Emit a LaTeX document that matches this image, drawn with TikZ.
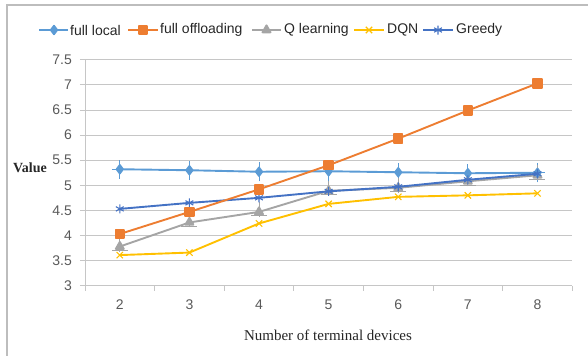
\documentclass[tikz,border=0pt]{standalone}
\usepackage{fontspec}
\setmainfont{Liberation Serif}
\newfontfamily\chartsans{Liberation Sans}
\usetikzlibrary{plotmarks}
\definecolor{clocal}{HTML}{5B9BD5}
\definecolor{coffload}{HTML}{ED7D31}
\definecolor{cqlearn}{HTML}{A5A5A5}
\definecolor{cdqn}{HTML}{FFC000}
\definecolor{cgreedy}{HTML}{4472C4}
\definecolor{gridgray}{HTML}{C6C6C6}
\definecolor{framegray}{HTML}{BDBDBD}
\definecolor{ticktext}{HTML}{595959}
\tikzset{
  series/.style={line width=1.9pt, line join=round},
  localser/.style={series, clocal, mark=diamond*, mark size=4.2pt, mark options={solid, fill=clocal}},
  offser/.style={series, coffload, mark=square*, mark size=4.3pt, mark options={solid, fill=coffload}},
  qser/.style={series, cqlearn, mark=triangle*, mark size=4.6pt, mark options={solid, fill=cqlearn}},
  dqnser/.style={series, cdqn, mark=x, mark size=4.5pt, mark options={solid, line width=1.1pt}},
  greedyser/.style={series, cgreedy, mark=asterisk, mark size=4.5pt, mark options={solid, line width=1.1pt}},
  errbar/.style={line width=0.9pt},
  gridline/.style={gridgray, line width=0.9pt},
  ticklabel/.style={font=\chartsans\fontsize{14}{16}\selectfont, text=ticktext, inner sep=0pt},
  legendtext/.style={font=\chartsans\fontsize{14}{16}\selectfont, text=black!85, inner sep=0pt, anchor=west},
  axistitle/.style={font=\fontsize{15}{17}\selectfont, text=black!85, inner sep=0pt},
}
\begin{document}
\begin{tikzpicture}[x=1pt,y=1pt]
\useasboundingbox (0,0) rectangle (588,-356);
% outer frame (top and left edges)
\draw[framegray, line width=1.2pt] (588,-5) -- (7,-5) -- (7,-356);

% legend: a short line and one marker per series
\draw[localser, mark=none] (39,-30) -- (68,-30);
\path[localser] plot coordinates {(54,-30)};
\node[legendtext] (lglocal) at (70,-30) {full local};
\draw[offser, mark=none] (128,-30) -- (158,-30);
\path[offser] plot coordinates {(143,-30)};
\node[legendtext] (lgoff) at (160,-30) {full offloading};
\draw[qser, mark=none] (252,-30) -- (281,-30);
\path[qser] plot coordinates {(266.5,-30)};
\node[legendtext] (lgq) at (284,-30) {Q learning};
\draw[dqnser, mark=none] (354,-30) -- (384,-30);
\path[dqnser] plot coordinates {(369,-30)};
\node[legendtext] (lgdqn) at (387,-30) {DQN};
\draw[greedyser, mark=none] (423,-30) -- (453,-30);
\path[greedyser] plot coordinates {(438,-30)};
\node[legendtext] (lggreedy) at (456,-30) {Greedy};

% plot area: x = number of devices, y = value
\begin{scope}[x=69.61pt, y=50.2pt, shift={(-19.42pt,-436.3pt)}]
  % horizontal grid lines and y tick marks
  \foreach \v in {3.5,4,...,7.5} {
    \draw[gridline] (1.5,\v) -- (8.5,\v);
  }
  \foreach \v in {3,3.5,...,7.5} {
    \draw[gridline] ([xshift=-5pt]1.5,\v) -- (1.5,\v);
    \node[ticklabel, anchor=east] at ([xshift=-13pt]1.5,\v) {\v};
  }
  % axes
  \draw[gridline] (1.5,7.5) -- (1.5,3) -- (8.5,3);
  \foreach \n in {1.5,2.5,...,8.5} {
    \draw[gridline] (\n,3) -- ([yshift=-5pt]\n,3);
  }
  \foreach \n in {2,...,8} {
    \node[ticklabel] at ([yshift=-19pt]\n,3) {\n};
  }

  % error bars
  \foreach \n/\v in {2/5.32,3/5.30,4/5.27,5/5.28,6/5.26,7/5.24,8/5.25} {
    \draw[errbar, clocal] (\n,\v-0.19) -- (\n,\v+0.19);
    \draw[errbar, clocal] ([xshift=-8pt]\n,\v) -- ([xshift=8pt]\n,\v);
  }
  \foreach \n/\v in {2/3.78,3/4.26,4/4.47,5/4.89,6/4.95,7/5.08,8/5.20} {
    \draw[errbar, cqlearn] (\n,\v-0.1) -- (\n,\v+0.2);
    \draw[errbar, cqlearn] ([xshift=-8pt]\n,\v-0.08) -- ([xshift=8pt]\n,\v-0.08);
  }

  % data series
  \draw[qser] plot coordinates {(2,3.78) (3,4.26) (4,4.47) (5,4.89) (6,4.95) (7,5.08) (8,5.20)};
  \draw[dqnser] plot coordinates {(2,3.61) (3,3.66) (4,4.24) (5,4.63) (6,4.77) (7,4.80) (8,4.84)};
  \draw[localser] plot coordinates {(2,5.32) (3,5.30) (4,5.27) (5,5.28) (6,5.26) (7,5.24) (8,5.25)};
  \draw[greedyser] plot coordinates {(2,4.53) (3,4.65) (4,4.75) (5,4.88) (6,4.97) (7,5.11) (8,5.23)};
  \draw[offser] plot coordinates {(2,4.03) (3,4.47) (4,4.92) (5,5.40) (6,5.93) (7,6.49) (8,7.03)};
\end{scope}

% axis titles
\node[axistitle, font=\bfseries\fontsize{14}{16}\selectfont] (ytitle) at (30,-168) {Value};
\node[axistitle] (xtitle) at (328,-335) {Number of terminal devices};
\end{tikzpicture}
\end{document}
